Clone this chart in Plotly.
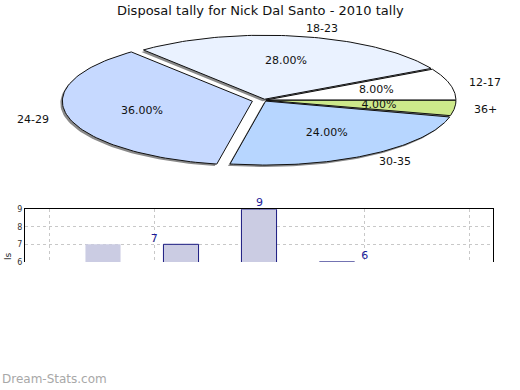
import numpy as np
import plotly.graph_objects as go

# ---------------- data ----------------
title_text = "Disposal tally for Nick Dal Santo - 2010 tally"
pie_labels = ["12-17", "18-23", "24-29", "30-35", "36+"]
pie_values = [8, 28, 36, 24, 4]
pie_colors = ["#ffffff", "#eaf2ff", "#c6d9ff", "#b7d6ff", "#cde98b"]
pie_explode = [2, 3, 12, 3, 2]

bar_x = [1, 2, 3, 4]
bar_values = [7, 7, 9, 6]
label_x = [1, 2, 3]
label_values = [7, 9, 6]
y_ticks = [6, 7, 8, 9]
y_title = "ls"
watermark = "Dream-Stats.com"

# ---------------- layout constants ----------------
W, H = 520, 390
CX, CY, RX, RY = 264, 98.5, 190, 65.5
FONT = "DejaVu Sans"

fig = go.Figure()

total = float(sum(pie_values))
fr = np.cumsum([0] + pie_values) / total * 2 * np.pi
slices = []
for i, v in enumerate(pie_values):
    t0, t1 = fr[i], fr[i + 1]
    tm = (t0 + t1) / 2
    dx = pie_explode[i] * np.cos(tm)
    dy = -pie_explode[i] * np.sin(tm) * RY / RX
    ts = np.linspace(t0, t1, 80)
    xs = np.concatenate([[CX + dx], CX + dx + RX * np.cos(ts), [CX + dx]])
    ys = np.concatenate([[CY + dy], CY + dy - RY * np.sin(ts), [CY + dy]])
    slices.append((xs, ys, tm, dx, dy))

# shadows
for xs, ys, tm, dx, dy in slices:
    fig.add_trace(go.Scatter(x=xs - 2, y=ys + 2, mode="lines", fill="toself",
                             fillcolor="#8a8a8a", line=dict(width=0),
                             hoverinfo="skip", showlegend=False,
                             xaxis="x", yaxis="y"))
# slices
for i, (xs, ys, tm, dx, dy) in enumerate(slices):
    fig.add_trace(go.Scatter(x=xs, y=ys, mode="lines", fill="toself",
                             fillcolor=pie_colors[i],
                             line=dict(width=1, color="#111111"),
                             hoverinfo="skip", showlegend=False,
                             xaxis="x", yaxis="y"))

# percent labels
px_, py_, pt_ = [], [], []
for i, (xs, ys, tm, dx, dy) in enumerate(slices):
    px_.append(CX + dx + 0.6 * RX * np.cos(tm))
    py_.append(CY + dy - 0.6 * RY * np.sin(tm))
    pt_.append(f"{pie_values[i] / total * 100:.2f}%")
fig.add_trace(go.Scatter(x=px_, y=py_, mode="text", text=pt_,
                         textposition="middle center",
                         textfont=dict(family=FONT, size=11, color="#111111"),
                         hoverinfo="skip", showlegend=False,
                         xaxis="x", yaxis="y"))

annotations = []
for i, (xs, ys, tm, dx, dy) in enumerate(slices):
    lx = CX + dx + (RX + 18) * np.cos(tm)
    ly = CY + dy - (RY + 8) * np.sin(tm)
    annotations.append(dict(x=lx, y=ly, xref="x", yref="y", text=pie_labels[i],
                            showarrow=False,
                            xanchor="left" if np.cos(tm) > 0 else "right",
                            yanchor="middle",
                            font=dict(family=FONT, size=11, color="#111111")))

annotations.append(dict(x=W / 2, y=7, xref="x", yref="y", text=title_text,
                        showarrow=False, xanchor="center", yanchor="middle",
                        font=dict(family=FONT, size=13, color="#111111")))
annotations.append(dict(x=0, y=384, xref="x", yref="y", text=watermark,
                        showarrow=False, xanchor="left", yanchor="middle",
                        font=dict(family=FONT, size=12, color="#a8a8a8")))
annotations.append(dict(x=8, y=258, xref="x", yref="y", text=y_title,
                        showarrow=False, textangle=-90, xanchor="center",
                        yanchor="middle",
                        font=dict(family=FONT, size=9, color="#222222")))

# ---------------- bar chart (clipped) ----------------
fig.add_trace(go.Bar(x=bar_x, y=bar_values, width=0.45,
                     marker=dict(color="#cbcce3",
                                 line=dict(color="#1a1a80", width=[0, 1, 1, 1])),
                     hoverinfo="skip", showlegend=False,
                     xaxis="x2", yaxis="y2"))
fig.add_trace(go.Scatter(x=label_x, y=label_values, mode="text",
                         text=[str(v) for v in label_values],
                         textposition="top center", cliponaxis=False,
                         marker=dict(size=1),
                         textfont=dict(family=FONT, size=11, color="#1a1a99"),
                         hoverinfo="skip", showlegend=False,
                         xaxis="x3", yaxis="y2"))

bx0, bx1 = 25 / W, 493 / W
by0, by1 = (H - 264) / H, (H - 210) / H

fig.update_layout(
    width=W, height=H,
    margin=dict(l=0, r=0, t=0, b=0),
    paper_bgcolor="white", plot_bgcolor="rgba(0,0,0,0)",
    showlegend=False,
    annotations=annotations,
    xaxis=dict(range=[0, W], domain=[0, 1], visible=False, fixedrange=True),
    yaxis=dict(range=[H, 0], domain=[0, 1], visible=False, fixedrange=True),
    xaxis2=dict(range=[0, 6], domain=[bx0, bx1], anchor="y2", side="top",
                showgrid=False, showticklabels=False, ticks="",
                showline=True, linecolor="black", linewidth=1, zeroline=False),
    xaxis3=dict(range=[-0.229, 4.219], overlaying="x2", anchor="y2",
                showgrid=True, gridcolor="#c8c8c8", griddash="dot",
                tickvals=[0, 1, 2, 3, 4], showticklabels=False, ticks="",
                showline=False, zeroline=False),
    yaxis2=dict(range=[6, 9], domain=[by0, by1], anchor="x2",
                tickvals=y_ticks, ticks="",
                tickfont=dict(family=FONT, size=8, color="#333333"),
                showgrid=True, gridcolor="#c8c8c8", griddash="dot",
                showline=True, mirror=True, linecolor="black", linewidth=1,
                zeroline=False),
)

fig.write_html("out.html",
               config={"displayModeBar": False, "staticPlot": True},
               post_script="document.body.style.margin='0';document.body.style.overflow='hidden';")
